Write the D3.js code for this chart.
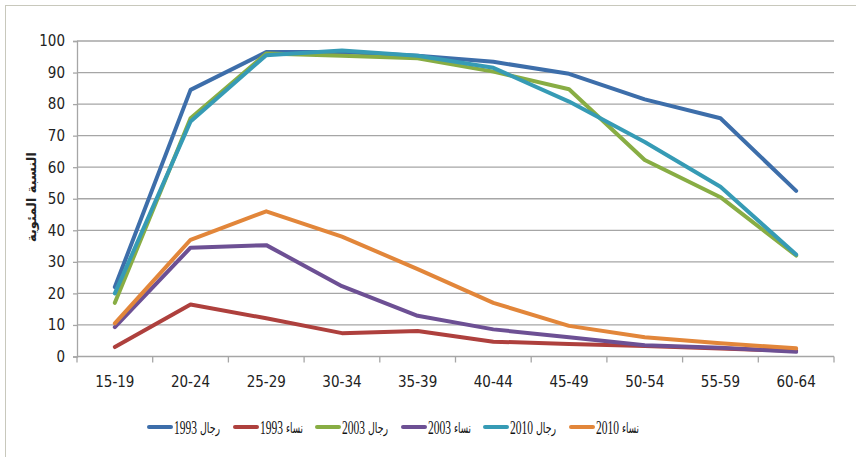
<!DOCTYPE html>
<html>
<head>
<meta charset="utf-8">
<script src="https://cdn.jsdelivr.net/npm/d3@7"></script>
<style>
  html, body { margin: 0; padding: 0; background: #fff; }
  svg { display: block; }
</style>
</head>
<body>
<svg id="chart" width="856" height="457"></svg>
<script>
// Age groups on the x axis
const ageGroups = ["15-19", "20-24", "25-29", "30-34", "35-39", "40-44", "45-49", "50-54", "55-59", "60-64"];

// Participation rate (%) per age group
const men1993   = [22.0, 84.5, 96.5, 96.5, 95.3, 93.4, 89.6, 81.5, 75.5, 52.5];
const women1993 = [3.0, 16.5, 12.1, 7.4, 8.1, 4.7, 4.0, 3.3, 2.5, 1.8];
const men2003   = [17.0, 75.5, 96.0, 95.3, 94.5, 90.3, 84.7, 62.3, 50.5, 32.0];
const women2003 = [9.3, 34.5, 35.3, 22.3, 12.9, 8.6, 6.1, 3.6, 2.8, 1.5];
const men2010   = [20.0, 74.5, 95.5, 97.0, 95.3, 91.5, 80.8, 68.0, 53.8, 32.3];
const women2010 = [10.5, 37.0, 46.0, 38.0, 27.7, 17.0, 9.7, 6.1, 4.2, 2.6];

const seriesNames = ["رجال 1993", "نساء 1993", "رجال 2003", "نساء 2003", "رجال 2010", "نساء 2010"];
const seriesColors = ["#3d6eaa", "#ae403d", "#88ad44", "#6d5094", "#369bb5", "#e2863a"];
const yTicks = [0, 10, 20, 30, 40, 50, 60, 70, 80, 90, 100];
const yTitle = "النسبة المئوية";

const seriesValues = [men1993, women1993, men2003, women2003, men2010, women2010];
const series = seriesNames.map((name, i) => ({ name, color: seriesColors[i], values: seriesValues[i] }));

const svg = d3.select("#chart");

// outer chart frame
svg.append("rect")
  .attr("x", 5.5).attr("y", 5.5)
  .attr("width", 900).attr("height", 900)
  .attr("fill", "none")
  .attr("stroke", "#c8c8bc")
  .attr("stroke-width", 1);

const plot = { left: 77, right: 834, top: 41, bottom: 356.5 };

const x = d3.scaleBand().domain(ageGroups).range([plot.left, plot.right]);
const y = d3.scaleLinear().domain([0, 100]).range([plot.bottom, plot.top]);

const narrow = "'Liberation Sans Narrow', 'Arial Narrow', 'DejaVu Sans Condensed', sans-serif";

// horizontal gridlines + y axis labels
const yAxis = d3.axisLeft(y).tickValues(yTicks).tickSize(4).tickPadding(8).tickFormat(d3.format("d"));
const yg = svg.append("g").attr("transform", `translate(${plot.left},0)`).call(yAxis);
yg.select(".domain").attr("stroke", "#a6a6a6").attr("stroke-width", 1.3);
yg.selectAll(".tick line").attr("stroke", "#a6a6a6").attr("stroke-width", 1.3);
yg.selectAll(".tick text")
  .attr("font-family", narrow)
  .attr("font-size", 15)
  .attr("fill", "#222");

svg.append("g")
  .selectAll("line")
  .data(yTicks)
  .join("line")
  .attr("x1", plot.left).attr("x2", plot.right)
  .attr("y1", d => y(d)).attr("y2", d => y(d))
  .attr("stroke", "#a6a6a6")
  .attr("stroke-width", 1.3);

// x axis with tick marks at band edges
const xAxis = d3.axisBottom(x).tickSize(0).tickPadding(20);
const xg = svg.append("g").attr("transform", `translate(0,${plot.bottom})`).call(xAxis);
xg.select(".domain").remove();
xg.selectAll(".tick text")
  .attr("font-family", narrow)
  .attr("font-size", 15)
  .attr("fill", "#222");

const edges = ageGroups.map(g => x(g)).concat([x(ageGroups[ageGroups.length - 1]) + x.bandwidth()]);
svg.append("g")
  .selectAll("line")
  .data(edges)
  .join("line")
  .attr("x1", d => d).attr("x2", d => d)
  .attr("y1", plot.bottom).attr("y2", plot.bottom + 6)
  .attr("stroke", "#a6a6a6")
  .attr("stroke-width", 1.3);

// y axis title
svg.append("text")
  .attr("transform", `translate(36,197) rotate(-90)`)
  .attr("text-anchor", "middle")
  .attr("font-family", "'DejaVu Sans', sans-serif")
  .attr("font-weight", "bold")
  .attr("font-size", 13)
  .attr("fill", "#222")
  .text(yTitle);

// series lines
const line = d3.line()
  .x((d, i) => x(ageGroups[i]) + x.bandwidth() / 2)
  .y(d => y(d));

svg.append("g")
  .selectAll("path")
  .data(series)
  .join("path")
  .attr("d", d => line(d.values))
  .attr("fill", "none")
  .attr("stroke", d => d.color)
  .attr("stroke-width", 4)
  .attr("stroke-linejoin", "round")
  .attr("stroke-linecap", "round");

// legend: swatch, then year, then the Arabic word on the right
const legendX = [147, 233, 315, 401, 483, 569];
const legendY = 427;
const lg = svg.append("g");

// fit a text element into a given width (horizontal squeeze only)
function fitText(sel, left, width, baseline) {
  const w = sel.node().getComputedTextLength();
  const sx = Math.min(1, width / w);
  sel.attr("transform", `translate(${left},${baseline}) scale(${sx},1)`);
}

series.forEach((s, i) => {
  const [word, year] = s.name.split(" ");
  const g = lg.append("g");
  g.append("line")
    .attr("x1", legendX[i] + 2).attr("x2", legendX[i] + 24)
    .attr("y1", legendY).attr("y2", legendY)
    .attr("stroke", s.color)
    .attr("stroke-width", 4)
    .attr("stroke-linecap", "round");
  const yt = g.append("text")
    .attr("font-family", "'Liberation Serif', serif")
    .attr("font-size", 18)
    .attr("fill", "#111")
    .text(year);
  fitText(yt, legendX[i] + 27, 23, legendY + 7);
  const wt = g.append("text")
    .attr("font-family", "'DejaVu Sans', sans-serif")
    .attr("font-size", 14)
    .attr("fill", "#111")
    .text(word);
  fitText(wt, legendX[i] + 53, i % 2 === 0 ? 20 : 17, legendY + 6);
});
</script>
</body>
</html>
